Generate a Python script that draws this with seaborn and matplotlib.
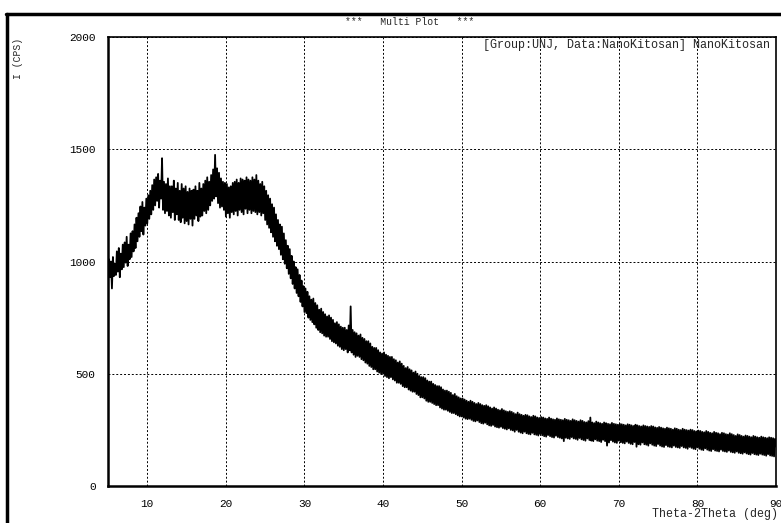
import numpy as np
import pandas as pd
import seaborn as sns
import matplotlib
matplotlib.use("Agg")
import matplotlib.pyplot as plt
from matplotlib.lines import Line2D
from matplotlib.ticker import MultipleLocator

# scan: 5-90 deg, 0.125 deg step
scan_start = 5.0
scan_stop = 90.0
scan_step = 0.125

intensity = [
    905, 1010, 930, 1000, 880, 1020, 935, 990,           # 5
    940, 1045, 955, 1060, 930, 1035, 965, 1075,          # 6
    975, 1085, 995, 1110, 980, 1075, 1010, 1125,         # 7
    1020, 1135, 1045, 1165, 1060, 1195, 1090, 1215,      # 8
    1110, 1245, 1135, 1265, 1120, 1240, 1160, 1280,      # 9
    1170, 1295, 1190, 1315, 1210, 1340, 1230, 1365,      # 10
    1250, 1375, 1270, 1390, 1240, 1360, 1280, 1460,      # 11
    1230, 1355, 1215, 1345, 1225, 1370, 1205, 1335,      # 12
    1195, 1335, 1220, 1360, 1185, 1325, 1210, 1350,      # 13
    1185, 1315, 1175, 1345, 1195, 1325, 1170, 1335,      # 14
    1180, 1310, 1165, 1325, 1190, 1315, 1160, 1320,      # 15
    1190, 1335, 1205, 1315, 1180, 1350, 1200, 1325,      # 16
    1205, 1345, 1225, 1360, 1215, 1375, 1230, 1355,      # 17
    1250, 1385, 1270, 1410, 1280, 1475, 1290, 1415,      # 18
    1260, 1395, 1240, 1370, 1245, 1355, 1230, 1350,      # 19
    1200, 1345, 1215, 1330, 1195, 1335, 1220, 1350,      # 20
    1210, 1355, 1225, 1365, 1205, 1350, 1230, 1370,      # 21
    1220, 1365, 1210, 1360, 1235, 1375, 1215, 1365,      # 22
    1230, 1360, 1215, 1375, 1225, 1365, 1220, 1385,      # 23
    1210, 1360, 1220, 1345, 1205, 1355, 1215, 1335,      # 24
    1185, 1315, 1165, 1295, 1150, 1280, 1130, 1255,      # 25
    1110, 1240, 1090, 1210, 1070, 1185, 1055, 1165,      # 26
    1030, 1155, 1010, 1125, 990, 1095, 970, 1070,        # 27
    945, 1055, 925, 1025, 900, 1000, 880, 975,           # 28
    860, 965, 845, 940, 820, 915, 800, 890,              # 29
    775, 880, 770, 865, 750, 845, 740, 830,              # 30
    730, 835, 720, 815, 705, 805, 695, 785,              # 31
    685, 790, 680, 775, 670, 765, 665, 755,              # 32
    665, 760, 655, 750, 645, 740, 640, 725,              # 33
    635, 730, 625, 720, 620, 710, 610, 705,              # 34
    605, 705, 610, 695, 595, 715, 605, 800,              # 35
    595, 695, 585, 685, 575, 680, 580, 670,              # 36
    575, 675, 565, 660, 560, 655, 550, 645,              # 37
    545, 645, 535, 635, 530, 620, 520, 615,              # 38
    520, 615, 510, 605, 505, 595, 500, 590,              # 39
    500, 595, 490, 585, 485, 580, 480, 575,              # 40
    485, 575, 475, 565, 470, 560, 460, 550,              # 41
    460, 555, 455, 545, 445, 535, 440, 525,              # 42
    440, 530, 430, 520, 425, 515, 420, 505,              # 43
    420, 510, 410, 500, 405, 490, 395, 485,              # 44
    395, 485, 390, 480, 380, 470, 375, 465,              # 45
    375, 465, 370, 455, 365, 450, 360, 445,              # 46
    360, 445, 350, 440, 345, 430, 340, 425,              # 47
    340, 425, 335, 420, 330, 415, 325, 405,              # 48
    325, 410, 320, 400, 315, 395, 310, 390,              # 49
    310, 390, 305, 385, 300, 380, 298, 375,              # 50
    300, 380, 295, 375, 290, 370, 288, 365,              # 51
    292, 370, 285, 365, 280, 360, 278, 357,              # 52
    282, 360, 275, 355, 270, 350, 268, 345,              # 53
    272, 350, 265, 345, 262, 340, 260, 337,              # 54
    264, 343, 258, 337, 255, 333, 252, 330,              # 55
    257, 333, 250, 330, 248, 325, 242, 320,              # 56
    250, 327, 242, 320, 238, 317, 235, 313,              # 57
    242, 317, 235, 315, 232, 310, 230, 307,              # 58
    237, 313, 230, 310, 228, 305, 225, 303,              # 59
    232, 307, 226, 305, 222, 301, 220, 299,              # 60
    227, 305, 222, 300, 218, 297, 216, 295,              # 61
    224, 301, 218, 297, 215, 295, 212, 293,              # 62
    200, 299, 215, 295, 212, 293, 210, 290,              # 63
    218, 297, 212, 293, 210, 290, 206, 287,              # 64
    214, 293, 208, 290, 205, 285, 202, 283,              # 65
    212, 289, 205, 305, 202, 283, 200, 280,              # 66
    208, 287, 202, 283, 200, 280, 196, 277,              # 67
    206, 283, 200, 280, 180, 277, 194, 275,              # 68
    204, 281, 198, 277, 194, 275, 192, 273,              # 69
    202, 277, 195, 275, 192, 273, 190, 270,              # 70
    198, 275, 192, 273, 188, 270, 186, 267,              # 71
    196, 273, 175, 270, 186, 267, 184, 265,              # 72
    194, 270, 186, 267, 184, 265, 180, 263,              # 73
    190, 267, 184, 265, 180, 261, 178, 259,              # 74
    187, 263, 180, 260, 176, 257, 174, 255,              # 75
    182, 260, 176, 257, 174, 255, 172, 251,              # 76
    180, 257, 174, 255, 172, 251, 170, 249,              # 77
    178, 255, 172, 251, 170, 249, 166, 247,              # 78
    174, 251, 170, 249, 166, 245, 164, 243,              # 79
    172, 247, 166, 245, 162, 241, 160, 239,              # 80
    168, 245, 162, 241, 158, 237, 156, 235,              # 81
    164, 241, 158, 237, 156, 235, 154, 231,              # 82
    162, 237, 156, 235, 154, 231, 152, 229,              # 83
    158, 235, 152, 231, 150, 227, 148, 223,              # 84
    154, 230, 148, 227, 146, 223, 144, 220,              # 85
    150, 225, 145, 223, 142, 220, 140, 217,              # 86
    147, 223, 142, 220, 140, 217, 138, 215,              # 87
    144, 220, 140, 217, 138, 215, 135, 213,              # 88
    142, 217, 136, 215, 134, 213, 132, 210,              # 89
    176,                                                 # 90
]

two_theta = np.round(np.arange(scan_start, scan_stop + 1e-6, scan_step), 3)
df = pd.DataFrame({"two_theta": two_theta, "cps": intensity})

x_ticks = [10, 20, 30, 40, 50, 60, 70, 80, 90]
y_ticks = [0, 500, 1000, 1500, 2000]

sns.set_style("white")
plt.rcParams["font.family"] = ["Liberation Mono", "DejaVu Sans Mono"]

fig = plt.figure(figsize=(7.81, 5.23), dpi=100)
ax = fig.add_axes([0.1383, 0.0707, 0.8553, 0.8586])

sns.lineplot(data=df, x="two_theta", y="cps", color="black", linewidth=1.3, ax=ax)

ax.set_xlim(5, 90)
ax.set_ylim(0, 2000)
ax.set_xticks(x_ticks)
ax.set_yticks(y_ticks)
ax.xaxis.set_minor_locator(MultipleLocator(1))
ax.yaxis.set_minor_locator(MultipleLocator(100))
ax.tick_params(axis="both", which="major", direction="out", length=6, width=0.8,
               labelsize=8, colors="black", pad=3)
ax.tick_params(axis="both", which="minor", direction="out", length=3, width=0.8)
ax.set_xlabel("")
ax.set_ylabel("")

ax.grid(True, which="major", color="black", linestyle=(0, (2, 2)), linewidth=0.7)
for s in ax.spines.values():
    s.set_color("black")
    s.set_linewidth(1.2)
ax.spines["left"].set_linewidth(1.8)
ax.spines["bottom"].set_linewidth(1.8)

ax.text(0.991, 0.982, "[Group:UNJ, Data:NanoKitosan] NanoKitosan", transform=ax.transAxes,
        ha="right", va="center", fontsize=8.5)
fig.text(410 / 781, 1 - 22 / 523, "***   Multi Plot   ***", ha="center", va="center", fontsize=7)
fig.text(18 / 781, 1 - 38 / 523, "I (CPS)", rotation=90, ha="center", va="top", fontsize=7)
fig.text(778 / 781, 1 - 514 / 523, "Theta-2Theta (deg)", ha="right", va="center", fontsize=8.4)

# outer frame lines (left and top)
fig.add_artist(Line2D([7 / 781, 7 / 781], [0, 1 - 14 / 523], transform=fig.transFigure,
                      color="black", linewidth=2.5))
fig.add_artist(Line2D([6 / 781, 1], [1 - 14 / 523, 1 - 14 / 523], transform=fig.transFigure,
                      color="black", linewidth=2.5))

fig.savefig("out.png", dpi=100)
